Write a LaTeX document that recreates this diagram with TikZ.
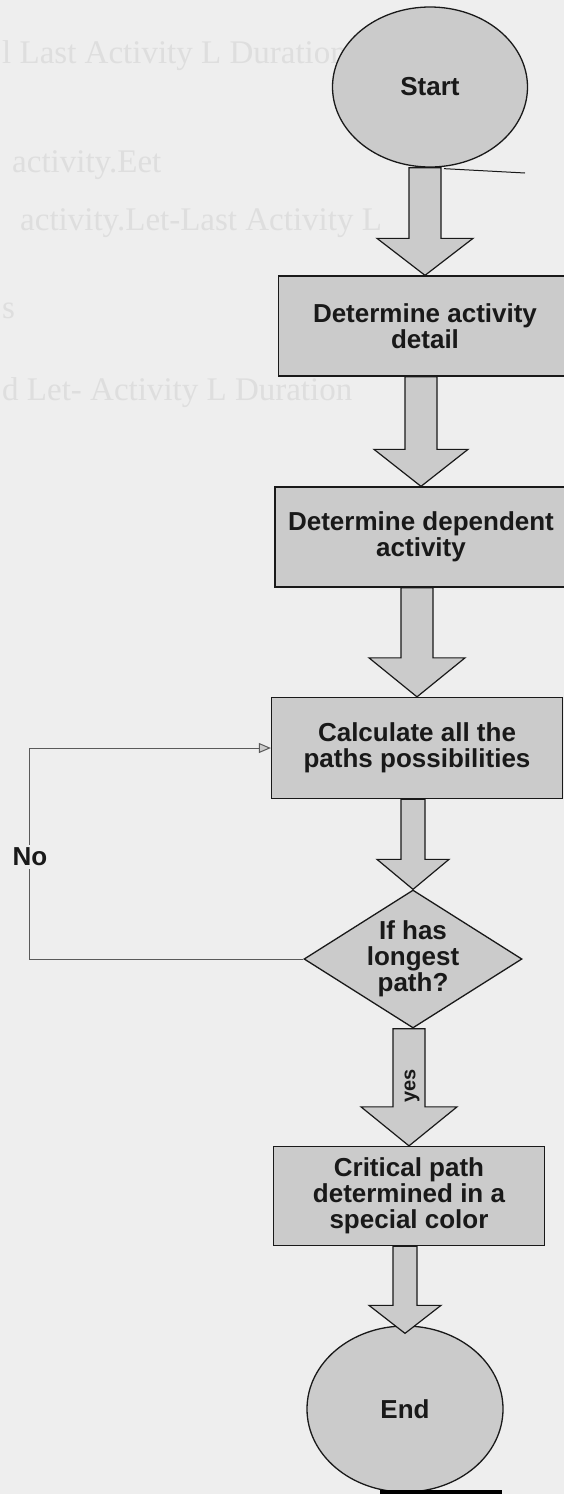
\documentclass[tikz,border=0pt]{standalone}
\usepackage{fontspec}
\setmainfont{Liberation Sans}
\newfontfamily\ghostfont{Liberation Serif}
\usetikzlibrary{shapes.geometric,arrows.meta,calc,backgrounds}

\definecolor{paper}{RGB}{238,238,238}
\definecolor{shade}{RGB}{203,203,203}
\definecolor{ink}{RGB}{25,25,25}
\definecolor{ghost}{RGB}{222,222,222}
\definecolor{wire}{RGB}{90,90,90}

\tikzset{
  every node/.style={font=\bfseries\fontsize{26}{26}\selectfont, text=ink},
  box/.style={rectangle, draw=ink, line width=1.3pt, fill=shade, align=center, inner sep=0pt},
  terminal/.style={ellipse, draw=ink, line width=1.3pt, fill=shade, inner sep=0pt},
  decision/.style={diamond, draw=ink, line width=1.3pt, fill=shade, align=center,
                   inner sep=0pt, shape aspect=1.58},
  blockarr/.style={draw=ink, line width=1.2pt, fill=shade, line join=miter},
  ghosttext/.style={font=\ghostfont\fontsize{33}{33}\selectfont, text=ghost,
                    anchor=base west, inner sep=0pt},
  wire/.style={draw=wire, line width=1pt},
}

% block arrow: from anchor #1 down to tip #2; shaft half width #3,
% head half width #4, head length #5
\newcommand{\flowarrow}[5]{%
  \path[blockarr] ($(#1 -| #2)+(-#3,0)$) -- ($(#2)+(-#3,-#5)$)
    -- ($(#2)+(-#4,-#5)$) -- (#2) -- ($(#2)+(#4,-#5)$)
    -- ($(#2)+(#3,-#5)$) -- ($(#1 -| #2)+(#3,0)$) -- cycle;}

\begin{document}
\begin{tikzpicture}[x=1pt,y=-1pt]
\useasboundingbox (0,0) rectangle (564,1494);

\begin{pgfonlayer}{background}
  \fill[paper] (0,0) rectangle (564,1494);
  % faint text showing through the sheet
  \node[ghosttext] (g1) at (2,63)   {l Last Activity L Duration};
  \node[ghosttext] (g2) at (12,172) {activity.Eet};
  \node[ghosttext] (g3) at (20,230) {activity.Let-Last Activity L};
  \node[ghosttext] (g4) at (2,318)  {s};
  \node[ghosttext] (g5) at (2,400)  {d Let- Activity L Duration};
\end{pgfonlayer}

% flow steps
\node[terminal, minimum width=195pt, minimum height=160pt] (start) at (430,87) {Start};
\node[box, minimum width=293pt, minimum height=100pt] (detail) at (425,326)
  {Determine activity\\detail};
\node[box, minimum width=292pt, minimum height=100pt] (depend) at (421,537)
  {Determine dependent\\activity};
\node[box, minimum width=291pt, minimum height=101pt] (paths) at (417,748)
  {Calculate all the\\paths possibilities};
\node[decision, minimum width=218pt, minimum height=138pt] (longest) at (413,959)
  {If has\\longest\\path?};
\node[box, minimum width=271pt, minimum height=99pt] (critical) at (409,1196)
  {Critical path\\determined in a\\special color};
\node[terminal, minimum width=196pt, minimum height=166pt] (finish) at (405,1409) {End};

% block arrows between the steps
\begin{pgfonlayer}{background}
  \flowarrow{start.south}{detail.north}{16}{48}{37}
  \flowarrow{detail.south}{depend.north}{16}{47}{37}
  \flowarrow{depend.south}{paths.north}{16}{48}{39}
  \flowarrow{paths.south}{longest.north}{12}{36}{30}
  \flowarrow{longest.south}{critical.north}{16}{48}{39}
\end{pgfonlayer}
\coordinate (endtip) at ($(finish.north)+(0,8)$);
\flowarrow{critical.south}{endtip}{12}{36}{28}

\node[rotate=90, font=\bfseries\fontsize{20}{20}\selectfont] (yes) at (412,1086) {yes};

% loop back when no longest path is found
\coordinate (loopx) at (29,0);
\draw[wire, -{Triangle[length=12pt,width=10pt,fill=shade]}]
  (longest.west) -- (longest.west -| loopx) |- (paths.west);
\node[fill=paper, inner sep=3pt] (no) at (30,857) {No};

% stray marks on the sheet
\coordinate (tickend) at (525,173);
\draw[ink, line width=1pt] ($(start.south)+(14,1)$) -- (tickend);
\coordinate (barl) at (380,1492);
\coordinate (barr) at (502,1492);
\draw[black, line width=4pt] (barl) -- (barr);
\end{tikzpicture}
\end{document}
